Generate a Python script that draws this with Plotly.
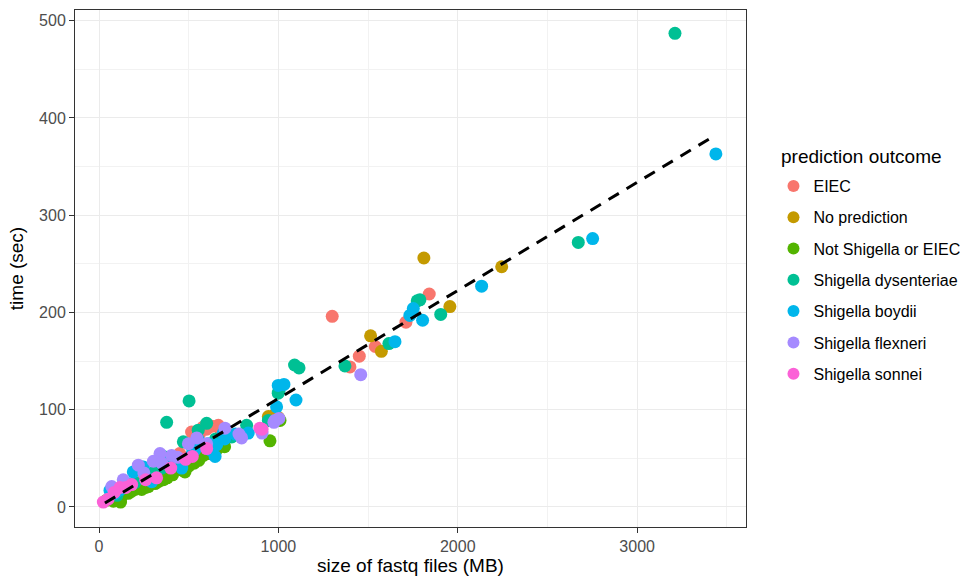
import plotly.graph_objects as go

# ---- data ----
categories = ["EIEC", "No prediction", "Not Shigella or EIEC", "Shigella dysenteriae",
              "Shigella boydii", "Shigella flexneri", "Shigella sonnei"]
colors = ["#F8766D", "#C49A00", "#53B400", "#00C094", "#00B6EB", "#A58AFF", "#FB61D7"]

eiec_x = [1300, 1841, 1711, 1540, 1451, 1399, 665, 516, 630, 700, 560, 450, 250, 150, 350, 600, 580, 680]
eiec_y = [196, 219, 190, 165, 155, 144, 84, 77, 83, 80, 75, 55, 30, 18, 42, 80, 82, 79]

nopred_x = [1811, 1956, 2245, 1514, 1574, 944, 535, 1000, 430, 300, 620, 980]
nopred_y = [256, 206, 247, 176, 160, 93, 48, 92, 45, 32, 55, 95]

notshig_x = [43, 60, 80, 108, 100, 130, 163, 180, 200, 238, 260, 275, 312, 330, 359, 380, 396, 424,
             450, 479, 500, 530, 556, 582, 610, 656, 700, 953, 1009, 120, 220, 290, 410, 460, 150, 340]
notshig_y = [7, 8, 6, 7, 10, 12, 14, 16, 18, 18, 20, 21, 24, 26, 28, 30, 35, 38,
             40, 36, 42, 45, 48, 53, 55, 59, 62, 68, 89, 5, 22, 25, 33, 38, 15, 30]

dys_x = [3211, 2672, 1905, 1789, 1774, 1616, 1371, 1090, 1115, 1003, 999, 823, 740, 600, 553, 502,
         377, 470, 517, 359, 349, 944, 650, 420, 300, 200, 100]
dys_y = [487, 272, 198, 213, 212, 168, 145, 146, 143, 119, 117, 84, 72, 86, 79, 109,
         87, 67, 62, 52, 40, 89, 70, 50, 35, 25, 12]

boyd_x = [3439, 2752, 2133, 1804, 1752, 1733, 1650, 1098, 1031, 990, 999, 832, 693, 647, 656, 619,
          609, 553, 535, 461, 294, 247, 191, 61, 150, 400, 520, 700, 760, 90, 120]
boyd_y = [363, 276, 227, 192, 204, 197, 170, 110, 126, 103, 125, 76, 76, 52, 64, 59,
          65, 69, 59, 40, 26, 41, 36, 17, 25, 48, 55, 70, 75, 14, 18]

flex_x = [1459, 981, 975, 1003, 795, 702, 545, 498, 438, 405, 340, 303, 219, 135, 71, 780, 600,
          250, 909, 350]
flex_y = [136, 89, 87, 91, 71, 81, 71, 65, 51, 53, 55, 47, 43, 28, 21, 75, 65, 35, 76, 45]

sonn_x = [897, 909, 483, 321, 117, 182, 24, 50, 260, 400, 600, 150, 520, 85]
sonn_y = [81, 80, 49, 30, 20, 23, 5, 8, 28, 40, 60, 20, 52, 15]

fit_x = [33, 3434]
fit_y = [4, 382]

series_x = [eiec_x, nopred_x, notshig_x, dys_x, boyd_x, flex_x, sonn_x]
series_y = [eiec_y, nopred_y, notshig_y, dys_y, boyd_y, flex_y, sonn_y]

FONT = "Liberation Sans, Arial, sans-serif"

fig = go.Figure()
for name, col, xs, ys in zip(categories, colors, series_x, series_y):
    fig.add_trace(go.Scatter(
        x=xs, y=ys, mode="markers", name=name, legendgroup=name,
        marker=dict(color=col, size=13, line=dict(width=0)),
    ))

fig.add_trace(go.Scatter(
    x=fit_x, y=fit_y, mode="lines", showlegend=False,
    line=dict(color="black", width=3, dash="12px,9px"),
))

axis_common = dict(
    automargin=False,
    showline=True, linecolor="#333333", linewidth=1, mirror=True,
    ticks="outside", ticklen=5, tickcolor="#333333", tickwidth=1,
    showgrid=True, gridcolor="#EBEBEB", gridwidth=1.2,
    zeroline=False,
    tickfont=dict(family=FONT, size=16, color="#4D4D4D"),
)

fig.update_layout(
    width=960, height=580, autosize=False,
    margin=dict(l=75, r=214, t=10, b=53),
    plot_bgcolor="white", paper_bgcolor="white",
    font=dict(family=FONT, color="black"),
    xaxis=dict(range=[-134, 3607], tickvals=[0, 1000, 2000, 3000],
               minor=dict(tickvals=[500, 1500, 2500, 3500], showgrid=True,
                          gridcolor="#F2F2F2", gridwidth=0.6, ticks=""),
               title=dict(text="size of fastq files (MB)", font=dict(family=FONT, size=19, color="black"),
                          standoff=4),
               **axis_common),
    yaxis=dict(range=[-20.6, 511], tickvals=[0, 100, 200, 300, 400, 500],
               minor=dict(tickvals=[50, 150, 250, 350, 450], showgrid=True,
                          gridcolor="#F2F2F2", gridwidth=0.6, ticks=""),
               title=dict(text="time (sec)", font=dict(family=FONT, size=19, color="black"),
                          standoff=10),
               **axis_common),
    legend=dict(
        font=dict(family=FONT, size=16, color="black"),
        xref="container", yref="container",
        x=0.8057, xanchor="left", y=0.7086, yanchor="top",
        tracegroupgap=7.5, itemsizing="constant",
        bgcolor="rgba(0,0,0,0)",
    ),
    annotations=[dict(
        text="prediction outcome", xref="paper", yref="paper",
        x=1.049, xanchor="left", y=0.7157, yanchor="middle", showarrow=False,
        font=dict(family=FONT, size=19, color="black"),
    )],
)

fig.write_html(
    "out.html",
    config={"responsive": False, "displayModeBar": False},
    post_script="document.body.style.margin='0';document.body.style.overflow='hidden';",
)
